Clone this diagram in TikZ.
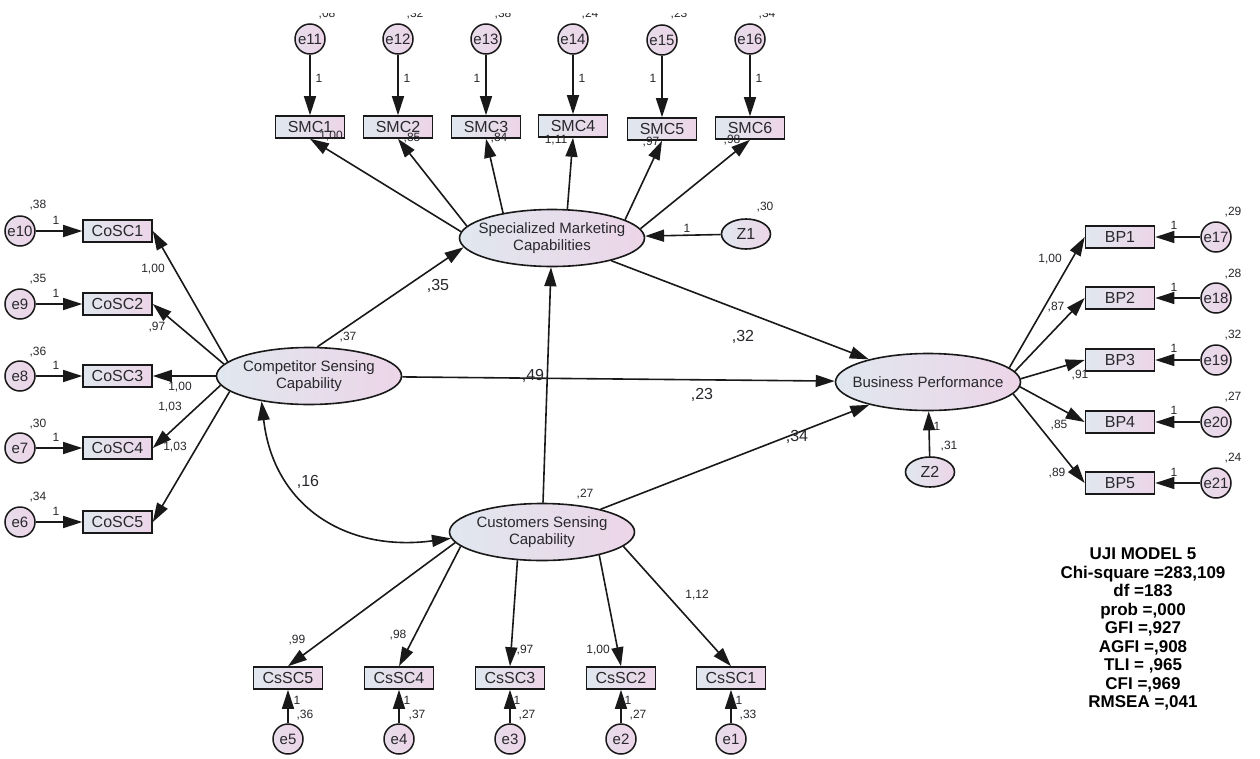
\documentclass[tikz,border=0pt]{standalone}
\usepackage{fontspec}
\setmainfont{Liberation Sans}
\usetikzlibrary{arrows.meta,shapes.geometric,calc}
\definecolor{gl}{RGB}{224,231,239}
\definecolor{gr}{RGB}{236,213,232}
\definecolor{ink}{RGB}{25,25,25}
\definecolor{txt}{RGB}{40,40,45}
\begin{document}
\begin{tikzpicture}[x=1pt,y=-1pt,
  every node/.style={inner sep=0pt, text=txt},
  obs/.style={draw=ink, line width=1.6pt, rectangle, minimum width=69pt, minimum height=22pt, left color=gl, right color=gr, font=\fontsize{16}{16}\selectfont},
  err/.style={draw=ink, line width=1.5pt, circle, minimum size=30pt, left color=gr!60!gl, right color=gr, font=\fontsize{15}{15}\selectfont},
  lat/.style={draw=ink, line width=1.6pt, ellipse, inner xsep=-14pt, minimum width=185pt, minimum height=57pt, left color=gl, right color=gr, align=center, font=\fontsize{15}{17}\selectfont},
  res/.style={draw=ink, line width=1.6pt, ellipse, minimum width=49pt, minimum height=30pt, left color=gl, right color=gr, font=\fontsize{16}{16}\selectfont},
  arr/.style={draw=ink, line width=1.6pt, -{Triangle[length=19pt,width=12pt]}},
  dbl/.style={draw=ink, line width=1.6pt, {Triangle[length=19pt,width=12pt]}-{Triangle[length=19pt,width=12pt]}},
  sm/.style={font=\fontsize{12}{12}\selectfont},
  big/.style={font=\fontsize{16}{16}\selectfont},
]
\useasboundingbox[fill=white] (0,0) rectangle (1260,758);

% ---------- latent variables ----------
\node[lat] (smc) at (552,238) {Specialized Marketing\\Capabilities};
\node[lat] (csc) at (309,376) {Competitor Sensing\\Capability};
\node[lat] (cssc) at (542,532) {Customers Sensing\\Capability};
\node[lat] (bp) at (928,382) {Business Performance};
\node[res] (z1) at (746,234) {Z1};
\node[res] (z2) at (930,472) {Z2};

% ---------- SMC indicators ----------
\foreach \i/\x/\y in {1/310/127,2/398/127,3/486/127,4/573/126,5/662/129,6/750/128}{
  \node[obs] (SMC\i) at (\x,\y) {SMC\i};
}
\node[err] (e11) at (310,39) {e11};
\node[err] (e12) at (398,39) {e12};
\node[err] (e13) at (486,39) {e13};
\node[err] (e14) at (573,39) {e14};
\node[err] (e15) at (662,40) {e15};
\node[err] (e16) at (750,39) {e16};

% ---------- CoSC indicators ----------
\foreach \i/\y in {1/231,2/304,3/376,4/448,5/522}{
  \node[obs] (CoSC\i) at (117.5,\y) {CoSC\i};
}
\node[err] (e10) at (20,231) {e10};
\node[err] (e9) at (20,304) {e9};
\node[err] (e8) at (20,376) {e8};
\node[err] (e7) at (20,448) {e7};
\node[err] (e6) at (20,522) {e6};

% ---------- BP indicators ----------
\foreach \i/\y in {1/237,2/298,3/360,4/422,5/483}{
  \node[obs] (BP\i) at (1120,\y) {BP\i};
}
\node[err] (e17) at (1216,237) {e17};
\node[err] (e18) at (1216,298) {e18};
\node[err] (e19) at (1216,360) {e19};
\node[err] (e20) at (1216,422) {e20};
\node[err] (e21) at (1216,483) {e21};

% ---------- CsSC indicators ----------
\foreach \i/\x in {5/288,4/399,3/510,2/621,1/731}{
  \node[obs] (CsSC\i) at (\x,678) {CsSC\i};
}
\node[err] (e5) at (288,739) {e5};
\node[err] (e4) at (399,739) {e4};
\node[err] (e3) at (510,739) {e3};
\node[err] (e2) at (621,739) {e2};
\node[err] (e1) at (731,739) {e1};

% ---------- connectors ----------
\foreach \k in {11,12,13,14,15,16}{
  \pgfmathtruncatemacro{\j}{\k-10}
  \draw[arr] (e\k) -- (SMC\j);
}
\draw[arr] (smc.176) -- (SMC1.south);
\draw[arr] (smc.172) -- (SMC2.south);
\draw[arr] (smc.153) -- (SMC3.south);
\draw[arr] (smc.62) -- (SMC4.south);
\draw[arr] (smc.14) -- (SMC5.south);
\draw[arr] (smc.6) -- (SMC6.south);
\draw[arr] (z1) -- (smc);

\draw[arr] (e10) -- (CoSC1);
\draw[arr] (e9) -- (CoSC2);
\draw[arr] (e8) -- (CoSC3);
\draw[arr] (e7) -- (CoSC4);
\draw[arr] (e6) -- (CoSC5);
\draw[arr] (csc.170) -- (CoSC1.east);
\draw[arr] (csc.172) -- (CoSC2.east);
\draw[arr] (csc) -- (CoSC3);
\draw[arr] (csc.186) -- (CoSC4.east);
\draw[arr] (csc.191) -- (CoSC5.east);

\draw[arr] (csc.74) -- (smc.186);
\draw[arr] (csc) -- (bp);
\draw[arr] (smc) -- (bp);
\draw[arr] (cssc) -- (bp);
\draw[arr] (cssc) -- (smc);
\draw[arr] (z2) -- (bp);

\draw[arr] (bp.10) -- (BP1.west);
\draw[arr] (bp.7) -- (BP2.west);
\draw[arr] (bp.2) -- (BP3.west);
\draw[arr] (bp.357) -- (BP4.west);
\draw[arr] (bp.352) -- (BP5.west);
\draw[arr] (e17) -- (BP1);
\draw[arr] (e18) -- (BP2);
\draw[arr] (e19) -- (BP3);
\draw[arr] (e20) -- (BP4);
\draw[arr] (e21) -- (BP5);

\draw[arr] (cssc.187) -- (CsSC5.north);
\draw[arr] (cssc.190) -- (CsSC4.north);
\draw[arr] (cssc.229) -- (CsSC3.north);
\draw[arr] (cssc.338) -- (CsSC2.north);
\draw[arr] (cssc.350) -- (CsSC1.north);
\draw[arr] (e5) -- (CsSC5);
\draw[arr] (e4) -- (CsSC4);
\draw[arr] (e3) -- (CsSC3);
\draw[arr] (e2) -- (CsSC2);
\draw[arr] (e1) -- (CsSC1);

\draw[dbl] (csc.208) .. controls ($(csc.208)+(12,105)$) and ($(cssc.184)+(-105,14)$) .. (cssc.184);

% ---------- labels ----------
\begin{scope}
\clip (0,13) rectangle (1260,40);
\node[sm, anchor=base] (v11) at (327,17) {,08};
\node[sm, anchor=base] (v12) at (415,17) {,32};
\node[sm, anchor=base] (v13) at (503,17) {,38};
\node[sm, anchor=base] (v14) at (590,17) {,24};
\node[sm, anchor=base] (v15) at (679,17) {,23};
\node[sm, anchor=base] (v16) at (767,17) {,34};
\end{scope}
\node[sm] (o11) at (319,78) {1};
\node[sm] (o12) at (407,78) {1};
\node[sm] (o13) at (477,78) {1};
\node[sm] (o14) at (582,78) {1};
\node[sm] (o15) at (653,78) {1};
\node[sm] (o16) at (759,78) {1};
\node[sm] (l1) at (331,136) {1,00};
\node[sm] (l2) at (412,138) {,85};
\node[sm] (l3) at (499,138) {,84};
\node[sm] (l4) at (556,140) {1,11};
\node[sm] (l5) at (651,142) {,97};
\node[sm] (l6) at (732,140) {,98};
\node[sm] (oz1) at (687,228) {1};
\node[sm] (vz1) at (765,207) {,30};

\node[sm] (v10) at (38,205) {,38};
\node[sm] (v9) at (38,279) {,35};
\node[sm] (v8) at (38,352) {,36};
\node[sm] (v7) at (38,424) {,30};
\node[sm] (v6) at (38,497) {,34};
\node[sm] (o10) at (56,220) {1};
\node[sm] (o9) at (56,293) {1};
\node[sm] (o8) at (56,365) {1};
\node[sm] (o7) at (56,437) {1};
\node[sm] (o6) at (56,511) {1};
\node[sm] (c1) at (153,269) {1,00};
\node[sm] (c2) at (157,327) {,97};
\node[sm] (c3) at (180,387) {1,00};
\node[sm] (c4) at (170,407) {1,03};
\node[sm] (c5) at (175,447) {1,03};

\node[sm] (vcsc) at (348,337) {,37};
\node[big] (p35) at (438,286) {,35};
\node[big] (p49) at (533,376) {,49};
\node[big] (p23) at (702,395) {,23};
\node[big] (p32) at (743,337) {,32};
\node[big] (p34) at (797,437) {,34};
\node[big] (p16) at (308,482) {,16};
\node[sm] (vcssc) at (585,494) {,27};

\node[sm] (v17) at (1233,212) {,29};
\node[sm] (v18) at (1233,274) {,28};
\node[sm] (v19) at (1233,335) {,32};
\node[sm] (v20) at (1233,397) {,27};
\node[sm] (v21) at (1233,458) {,24};
\node[sm] (o17) at (1174,225) {1};
\node[sm] (o18) at (1174,287) {1};
\node[sm] (o19) at (1174,348) {1};
\node[sm] (o20) at (1174,410) {1};
\node[sm] (o21) at (1174,472) {1};
\node[sm] (b1) at (1050,259) {1,00};
\node[sm] (b2) at (1056,307) {,87};
\node[sm] (b3) at (1080,375) {,91};
\node[sm] (b4) at (1059,425) {,85};
\node[sm] (b5) at (1057,473) {,89};
\node[sm] (oz2) at (937,426) {1};
\node[sm] (vz2) at (949,446) {,31};

\node[sm] (s5) at (297,640) {,99};
\node[sm] (s4) at (398,635) {,98};
\node[sm] (s3) at (525,650) {,97};
\node[sm] (s2) at (598,650) {1,00};
\node[sm] (s1) at (697,595) {1,12};
\node[sm] (o5) at (297,700) {1};
\node[sm] (o4) at (407,700) {1};
\node[sm] (o3) at (517,700) {1};
\node[sm] (o2) at (628,700) {1};
\node[sm] (o1) at (739,700) {1};
\node[sm] (v5) at (305,715) {,36};
\node[sm] (v4) at (417,715) {,37};
\node[sm] (v3) at (527,715) {,27};
\node[sm] (v2) at (638,715) {,27};
\node[sm] (v1) at (748,715) {,33};

\node[font=\bfseries\fontsize{17}{18.5}\selectfont, align=center, text=black] (stats) at (1143,629)
 {UJI MODEL 5\\Chi-square =283,109\\df =183\\prob =,000\\GFI =,927\\AGFI =,908\\TLI = ,965\\CFI =,969\\RMSEA =,041};
\end{tikzpicture}
\end{document}
